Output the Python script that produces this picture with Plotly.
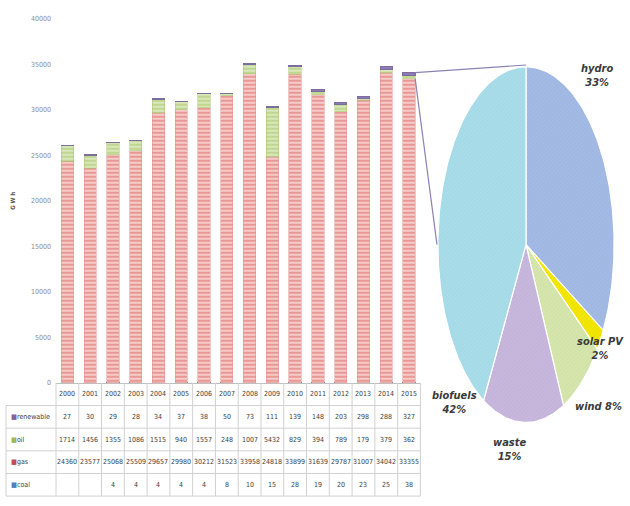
import numpy as np
import plotly.graph_objects as go

# ---- data -------------------------------------------------------------
years = [str(y) for y in range(2000, 2016)]
renewable = [27, 30, 29, 28, 34, 37, 38, 50, 73, 111, 139, 148, 203, 298, 288, 327]
oil = [1714, 1456, 1355, 1086, 1515, 940, 1557, 248, 1007, 5432, 829, 394, 789, 179, 379, 362]
gas = [24360, 23577, 25068, 25509, 29657, 29980, 30212, 31523, 33958, 24818,
       33899, 31639, 29787, 31007, 34042, 33355]
coal = [None, None, 4, 4, 4, 4, 4, 8, 10, 15, 28, 19, 20, 23, 25, 38]

pie_labels = ["hydro", "solar PV", "wind", "waste", "biofuels"]
pie_shares = [33, 2, 8, 15, 42]

y_ticks = list(range(0, 40001, 5000))

# ---- geometry helpers (figure pixels -> paper) ------------------------
W, H = 630, 506
def px(x):
    return x / W
def py(y):
    return 1 - y / H

bar_x0, bar_x1 = 56, 420.4
bar_top, bar_bot = 15, 385
pie_x0, pie_x1 = 437, 615
pie_top, pie_bot = 62, 427

FONT = "Liberation Sans Narrow, DejaVu Sans Condensed, Arial Narrow, Liberation Sans, sans-serif"

fig = go.Figure()

# ---- stacked bars -----------------------------------------------------
series = [
    ("coal", coal, dict(color="#4F81BD", line=dict(color="#4F6FB0", width=1))),
    ("gas", gas, dict(color="#F5C2C0", line=dict(color="#E08F8C", width=0.5),
                      pattern=dict(shape="-", fgcolor="#D65B57", bgcolor="#F7CBC9",
                                   size=4, solidity=0.45))),
    ("oil", oil, dict(color="#D3E4B0", line=dict(color="#A9C36E", width=0.5),
                      pattern=dict(shape="-", fgcolor="#A0BF5C", bgcolor="#D8E8B9",
                                   size=4, solidity=0.45))),
    ("renewable", renewable, dict(color="#8E7BB5", line=dict(color="#7B6D9E", width=1))),
]
for name, vals, marker in series:
    fig.add_trace(go.Bar(x=years, y=vals, name=name, marker=marker,
                         xaxis="x", yaxis="y", showlegend=False,
                         hoverinfo="x+y+name"))

# ---- elliptical pie of the 2015 renewable split -----------------------
pie_fill = ["#A3BBE4", "#F3E600", "#D5E5AC", "#C8B7DD", "#A9DCE9"]
pie_hatch = ["#8FA8D6", "#E0D200", "#C3D699", "#B6A4CE", "#93CDDC"]
start = 0.0
total = float(sum(pie_shares))
for lab, share, col, hcol in zip(pie_labels, pie_shares, pie_fill, pie_hatch):
    a0 = start / total * 2 * np.pi
    a1 = (start + share) / total * 2 * np.pi
    t = np.linspace(a0, a1, max(8, int(share * 4)))
    xs = np.concatenate([[0], np.sin(t), [0]])
    ys = np.concatenate([[0], np.cos(t), [0]])
    fig.add_trace(go.Scatter(
        x=xs, y=ys, mode="lines", fill="toself", fillcolor=col,
        fillpattern=dict(shape="/", fgcolor=hcol, bgcolor=col, size=3, solidity=0.25),
        line=dict(color="white", width=1.2), name=lab, showlegend=False,
        xaxis="x2", yaxis="y2", hoverinfo="name"))
    start += share

# ---- layout -----------------------------------------------------------
fig.update_layout(
    width=W, height=H,
    margin=dict(l=0, r=0, t=0, b=0),
    paper_bgcolor="white", plot_bgcolor="white",
    barmode="stack", bargap=0.46,
    font=dict(family=FONT, color="#404040"),
    xaxis=dict(domain=[px(bar_x0), px(bar_x1)], range=[-0.5, 15.5],
               type="category", showticklabels=False, ticks="",
               showline=True, linecolor="#BFBFBF", linewidth=1,
               showgrid=False, zeroline=False, fixedrange=True),
    yaxis=dict(domain=[py(bar_bot), py(bar_top)], range=[0, 40000],
               tickvals=y_ticks, ticktext=[str(v) for v in y_ticks],
               tickfont=dict(size=7, color="#8C8C8C", family=FONT),
               showgrid=False, zeroline=False, showline=False, ticks="",
               ticklabelstandoff=4,
               title=dict(text="<b>G W h</b>", font=dict(size=6, color="#555555"),
                          standoff=14),
               fixedrange=True),
    xaxis2=dict(domain=[px(pie_x0), px(pie_x1)], range=[-1.01, 1.01],
                visible=False, fixedrange=True),
    yaxis2=dict(domain=[py(pie_bot), py(pie_top)], range=[-1.01, 1.01],
                visible=False, fixedrange=True),
)

shapes = []
annotations = []

# connector lines from the 2015 bar to the pie
conn_col = "#8A82B4"
bar_right_2015 = px(bar_x0 + (15 + 0.5 + 0.27) / 16 * (bar_x1 - bar_x0))
top_2015 = sum(v or 0 for v in (coal[-1], gas[-1], oil[-1], renewable[-1]))
y_top_2015 = py(bar_bot - top_2015 / 40000 * (bar_bot - bar_top))
shapes.append(dict(type="line", xref="paper", yref="paper",
                   x0=bar_right_2015, y0=y_top_2015,
                   x1=px((pie_x0 + pie_x1) / 2), y1=py(pie_top),
                   line=dict(color=conn_col, width=1.2)))
shapes.append(dict(type="line", xref="paper", yref="paper",
                   x0=bar_right_2015, y0=y_top_2015 - 0.012,
                   x1=px(pie_x0), y1=py((pie_top + pie_bot) / 2),
                   line=dict(color=conn_col, width=1.2)))

# ---- data table under the bars -----------------------------------------
grid_col = "#D0D0D0"
tbl_left = 6
row_edges = [385, 408, 431, 454, 477, 500]
col_w = (bar_x1 - bar_x0) / 16
for k in range(17):
    xk = px(bar_x0 + k * col_w)
    shapes.append(dict(type="line", xref="paper", yref="paper",
                       x0=xk, x1=xk, y0=py(row_edges[0]), y1=py(row_edges[-1]),
                       line=dict(color=grid_col, width=1)))
shapes.append(dict(type="line", xref="paper", yref="paper",
                   x0=px(tbl_left), x1=px(tbl_left), y0=py(row_edges[1]), y1=py(row_edges[-1]),
                   line=dict(color=grid_col, width=1)))
for r in row_edges[1:]:
    shapes.append(dict(type="line", xref="paper", yref="paper",
                       x0=px(tbl_left), x1=px(bar_x1), y0=py(r), y1=py(r),
                       line=dict(color=grid_col, width=1)))

cell_font = dict(size=7, color="#404040", family=FONT)
# header row with the years
for i, yr in enumerate(years):
    annotations.append(dict(x=i, xref="x", y=py((row_edges[0] + row_edges[1]) / 2),
                            yref="paper", xanchor="center", yanchor="middle",
                            text=yr, showarrow=False, font=cell_font))

table_rows = [("renewable", renewable, "#8064A2"),
              ("oil", oil, "#9BBB59"),
              ("gas", gas, "#C0504D"),
              ("coal", coal, "#4F81BD")]
for ri, (name, vals, col) in enumerate(table_rows):
    yc = py((row_edges[ri + 1] + row_edges[ri + 2]) / 2)
    annotations.append(dict(x=px(tbl_left + 3), xref="paper", y=yc, yref="paper",
                            xanchor="left", yanchor="middle",
                            text=f"<span style='color:{col}'>■</span>{name}",
                            showarrow=False, font=cell_font))
    for i, v in enumerate(vals):
        if v is None:
            continue
        annotations.append(dict(x=i, xref="x", y=yc, yref="paper", text=str(v),
                                xanchor="center", yanchor="middle",
                                showarrow=False, font=cell_font))

# ---- pie labels --------------------------------------------------------
pie_font = dict(size=11, color="#3A3A3A", family=FONT)
label_pos = {
    "hydro": (597, 73, "hydro<br>{}%"),
    "solar PV": (600, 350, "solar PV<br>{}%"),
    "wind": (598, 409, "wind {}%"),
    "waste": (509, 453, "waste<br>{}%"),
    "biofuels": (454, 405, "biofuels<br>{}%"),
}
for lab, share in zip(pie_labels, pie_shares):
    x, y, fmt = label_pos[lab]
    annotations.append(dict(x=px(x), y=py(y), xref="paper", yref="paper",
                            xanchor="center", yanchor="middle",
                            text="<b><i>" + fmt.format(share) + "</i></b>",
                            showarrow=False, font=pie_font, align="center"))

fig.update_layout(shapes=shapes, annotations=annotations)

fig.write_html("out.html")
